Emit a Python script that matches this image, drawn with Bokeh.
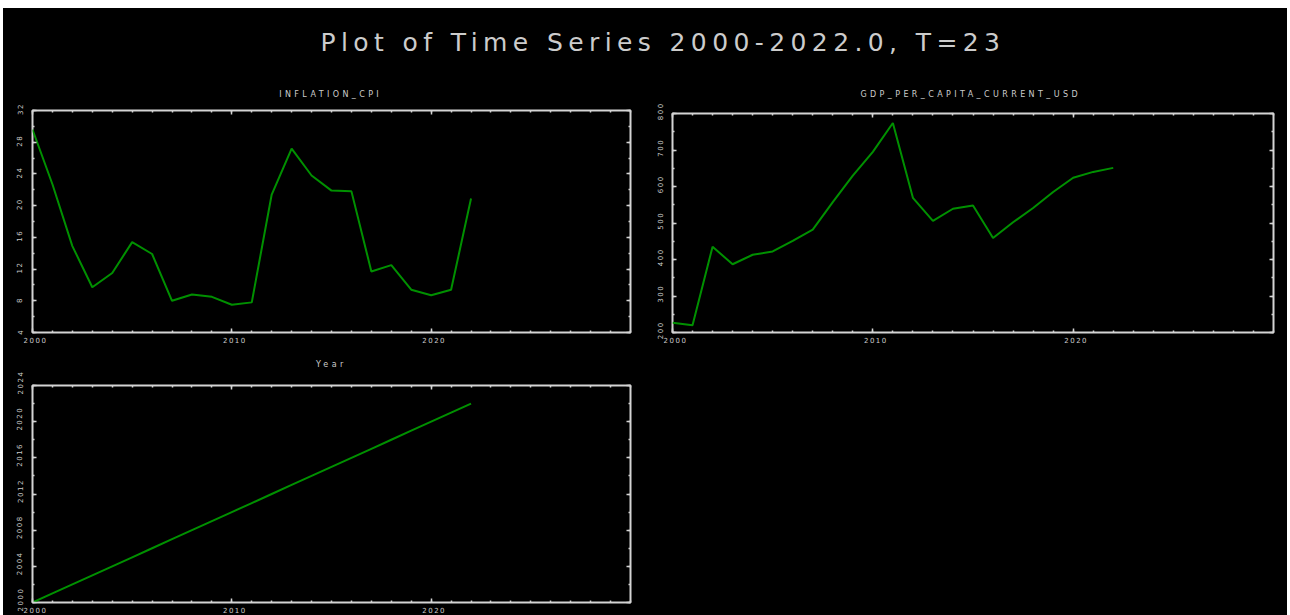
from bokeh.plotting import figure
from bokeh.layouts import column, row
from bokeh.models import Range1d, FixedTicker, LinearAxis, Label, ColumnDataSource, InlineStyleSheet
from bokeh.embed import file_html
from bokeh.resources import INLINE

# ---- data -----------------------------------------------------------------
years = [2000, 2001, 2002, 2003, 2004, 2005, 2006, 2007, 2008, 2009, 2010, 2011,
         2012, 2013, 2014, 2015, 2016, 2017, 2018, 2019, 2020, 2021, 2022]
inflation_cpi = [29.6, 22.7, 14.9, 9.7, 11.5, 15.4, 13.9, 8.0, 8.8, 8.5, 7.5, 7.8,
                 21.4, 27.2, 23.8, 21.9, 21.8, 11.7, 12.5, 9.4, 8.7, 9.4, 20.9]
gdp_per_capita_current_usd = [227, 220, 435, 387, 413, 422, 451, 482, 557, 630, 695, 774,
                              569, 506, 539, 548, 459, 502, 541, 585, 624, 640, 651]
year_series = [2000, 2001, 2002, 2003, 2004, 2005, 2006, 2007, 2008, 2009, 2010, 2011,
               2012, 2013, 2014, 2015, 2016, 2017, 2018, 2019, 2020, 2021, 2022]

x_major_ticks = [2000, 2010, 2020]
x_minor_ticks = [2000, 2001, 2002, 2003, 2004, 2005, 2006, 2007, 2008, 2009, 2010,
                 2011, 2012, 2013, 2014, 2015, 2016, 2017, 2018, 2019, 2020,
                 2021, 2022, 2023, 2024, 2025, 2026, 2027, 2028, 2029, 2030]
inflation_ticks = [4, 8, 12, 16, 20, 24, 28, 32]
inflation_minor = [4, 6, 8, 10, 12, 14, 16, 18, 20, 22, 24, 26, 28, 30, 32]
gdp_ticks = [200, 300, 400, 500, 600, 700, 800]
gdp_minor = [200, 250, 300, 350, 400, 450, 500, 550, 600, 650, 700, 750, 800]
year_ticks = [2000, 2004, 2008, 2012, 2016, 2020, 2024]
year_minor = [2000, 2002, 2004, 2006, 2008, 2010, 2012, 2014, 2016, 2018, 2020, 2022, 2024]

main_title = "Plot of Time Series 2000-2022.0, T=23"

# ---- style ----------------------------------------------------------------
BG = "black"
FRAME = "#d4d4d4"
TEXT = "#cccccc"
LINE = "#009000"
FONT = "DejaVu Sans"
X_LO, X_HI = 2000, 2030
NAME_ADVANCE = 8.2   # approximate horizontal advance per character of a series name
NAME_NUDGE = -28     # extra horizontal correction for the series-name strips

panel_css = InlineStyleSheet(css=":host { letter-spacing: 1.5px; background-color: black; }")
name_css = InlineStyleSheet(css=":host { letter-spacing: 3.4px; background-color: black; }")
title_css = InlineStyleSheet(css=":host { letter-spacing: 5.4px; background-color: black; }")


def add_axis(p, side, ticker, labels):
    ax = LinearAxis(ticker=ticker)
    ax.axis_line_color = None
    ax.major_tick_line_color = FRAME
    ax.minor_tick_line_color = FRAME
    ax.major_tick_line_width = 1.5
    ax.minor_tick_line_width = 1.5
    ax.major_tick_in = 4
    ax.major_tick_out = 0
    ax.minor_tick_in = 2
    ax.minor_tick_out = 0
    ax.major_label_text_font = FONT
    ax.major_label_text_font_size = "7px"
    if labels:
        ax.major_label_text_color = TEXT
        ax.major_label_standoff = 10 if side == "left" else 4
        if side == "left":
            ax.major_label_orientation = "vertical"
    else:
        # mirrored tick marks only, no labels painted
        ax.major_label_text_color = None
        ax.major_label_text_font_size = "1px"
        ax.major_label_standoff = 0
    p.add_layout(ax, side)


def blank_fig(width, height, css):
    f = figure(width=width, height=height, output_backend="svg", toolbar_location=None,
               x_range=Range1d(0, width), y_range=Range1d(0, height),
               x_axis_type=None, y_axis_type=None,
               background_fill_color=BG, border_fill_color=BG,
               min_border=0, stylesheets=[css])
    f.outline_line_color = None
    f.grid.visible = False
    return f


def name_strip(name, width, height, left, right, text_y):
    # series name centred over the frame of the panel below it
    s = blank_fig(width, height, name_css)
    start = left + (width - left - right) / 2 - len(name) * NAME_ADVANCE / 2 + NAME_NUDGE
    s.add_layout(Label(x=start, y=text_y, x_units="screen", y_units="screen", text=name,
                       text_color=TEXT, text_font=FONT, text_font_size="8px",
                       text_align="left", text_baseline="middle"))
    return s


def panel(values, y_lo, y_hi, y_major, y_minor, width, height, borders):
    left, right, top, bottom = borders
    p = figure(width=width, height=height, output_backend="svg", toolbar_location=None,
               x_range=Range1d(X_LO, X_HI), y_range=Range1d(y_lo, y_hi),
               x_axis_type=None, y_axis_type=None,
               background_fill_color=BG, border_fill_color=BG,
               min_border_left=left, min_border_right=right,
               min_border_top=top, min_border_bottom=bottom,
               stylesheets=[panel_css])
    p.outline_line_color = FRAME
    p.outline_line_width = 2
    p.grid.visible = False

    xt = FixedTicker(ticks=x_major_ticks, minor_ticks=x_minor_ticks)
    yt = FixedTicker(ticks=y_major, minor_ticks=y_minor)
    add_axis(p, "below", xt, True)
    add_axis(p, "above", xt, False)
    add_axis(p, "left", yt, True)
    add_axis(p, "right", yt, False)

    src = ColumnDataSource(dict(x=years, y=values))
    p.line("x", "y", source=src, line_color=LINE, line_width=2)
    return p


p_infl = panel(inflation_cpi, 4, 32, inflation_ticks, inflation_minor,
               647, 246, (29, 20, 11, 13))
p_gdp = panel(gdp_per_capita_current_usd, 200, 800, gdp_ticks, gdp_minor,
              637, 246, (22, 14, 14, 12))
p_year = panel(year_series, 2000, 2024, year_ticks, year_minor,
               647, 247, (29, 20, 17, 12))

n_infl = name_strip("INFLATION_CPI", 647, 26, 29, 20, 5)
n_gdp = name_strip("GDP_PER_CAPITA_CURRENT_USD", 637, 26, 22, 14, 5)
n_year = name_strip("Year", 647, 23, 29, 20, 4)

# empty bottom-right cell
blank = blank_fig(637, 270, panel_css)

# main heading strip
head = blank_fig(1284, 65, title_css)
head.add_layout(Label(x=317, y=31, x_units="screen", y_units="screen", text=main_title,
                      text_color=TEXT, text_font=FONT, text_font_size="25px",
                      text_align="left", text_baseline="middle"))

black = {"background-color": "black"}
layout = column(head,
                row(column(n_infl, p_infl, styles=black),
                    column(n_gdp, p_gdp, styles=black), styles=black),
                row(column(n_year, p_year, styles=black), blank, styles=black),
                margin=(8, 0, 0, 3), styles=black)

open("out.html", "w").write(file_html(layout, INLINE))
